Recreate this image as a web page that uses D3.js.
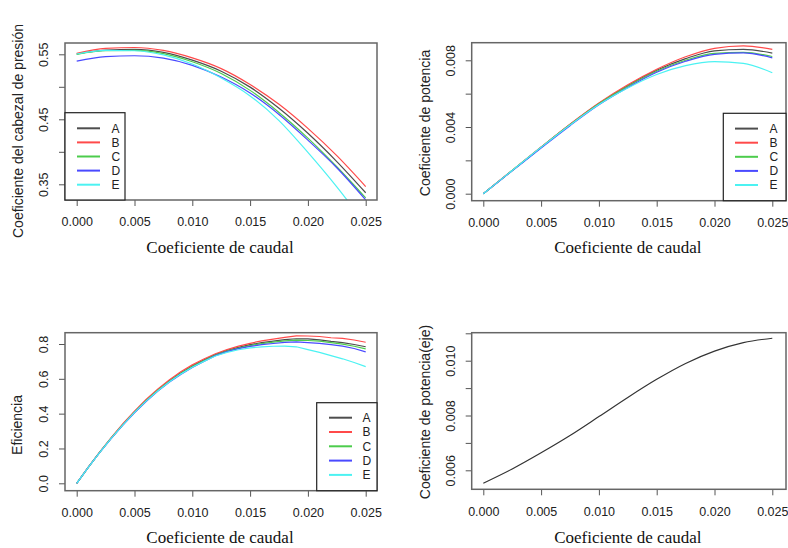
<!DOCTYPE html>
<html>
<head>
<meta charset="utf-8">
<script src="https://cdn.jsdelivr.net/npm/d3@7"></script>
<style>
  body { margin: 0; background: #fff; }
</style>
</head>
<body>
<div id="container"></div>
<script>
// flow coefficient samples
const flowCoef = [0, 0.0025, 0.005, 0.0075, 0.01, 0.0125, 0.015, 0.0175, 0.02, 0.0225, 0.025];
const flowFine = [0, 0.001, 0.002, 0.003, 0.004, 0.005, 0.006, 0.007, 0.008, 0.009, 0.010, 0.011, 0.012,
                  0.013, 0.014, 0.015, 0.016, 0.017, 0.018, 0.019, 0.020, 0.021, 0.022, 0.023, 0.024, 0.025];

const seriesNames = ['A', 'B', 'C', 'D', 'E'];

// head coefficient
const headA = [0.5505, 0.5565, 0.5575, 0.5530, 0.5410, 0.5240, 0.4995, 0.4670, 0.4285, 0.3850, 0.3370];
const headB = [0.5515, 0.5590, 0.5605, 0.5560, 0.5445, 0.5280, 0.5035, 0.4730, 0.4360, 0.3940, 0.3465];
const headC = [0.5500, 0.5555, 0.5560, 0.5510, 0.5385, 0.5205, 0.4945, 0.4605, 0.4210, 0.3770, 0.3290];
const headD = [0.5395, 0.5465, 0.5478, 0.5440, 0.5330, 0.5150, 0.4905, 0.4575, 0.4180, 0.3755, 0.3260];
const headE = [0.5505, 0.5560, 0.5555, 0.5490, 0.5350, 0.5135, 0.4860, 0.4480, 0.3990, 0.3460, 0.2880];

// power coefficient
const powerA = [0, 0.00139, 0.00279, 0.00415, 0.00541, 0.00648, 0.00740, 0.00810, 0.00857, 0.00866, 0.00843];
const powerB = [0, 0.00140, 0.00280, 0.00417, 0.00544, 0.00653, 0.00746, 0.00821, 0.00872, 0.00887, 0.00866];
const powerC = [0, 0.00139, 0.00278, 0.00413, 0.00539, 0.00644, 0.00734, 0.00800, 0.00842, 0.00848, 0.00823];
const powerD = [0, 0.00137, 0.00274, 0.00408, 0.00533, 0.00637, 0.00728, 0.00794, 0.00836, 0.00844, 0.00815];
const powerE = [0, 0.00139, 0.00278, 0.00412, 0.00535, 0.00634, 0.00715, 0.00768, 0.00792, 0.00781, 0.00725];

// efficiency
const effA = [0, 0.092, 0.179, 0.261, 0.338, 0.410, 0.476, 0.535, 0.587, 0.633, 0.673, 0.708, 0.740,
              0.763, 0.781, 0.796, 0.808, 0.817, 0.825, 0.830, 0.829, 0.824, 0.815, 0.808, 0.797, 0.784];
const effB = [0, 0.093, 0.181, 0.264, 0.342, 0.414, 0.481, 0.540, 0.593, 0.640, 0.680, 0.714, 0.744,
              0.768, 0.788, 0.804, 0.818, 0.828, 0.838, 0.847, 0.846, 0.843, 0.836, 0.832, 0.823, 0.810];
const effC = [0, 0.092, 0.179, 0.261, 0.337, 0.409, 0.474, 0.533, 0.585, 0.630, 0.670, 0.704, 0.737,
              0.760, 0.777, 0.791, 0.802, 0.811, 0.818, 0.822, 0.820, 0.816, 0.808, 0.799, 0.787, 0.772];
const effD = [0, 0.091, 0.177, 0.258, 0.334, 0.405, 0.470, 0.528, 0.580, 0.625, 0.665, 0.699, 0.733,
              0.756, 0.773, 0.786, 0.796, 0.803, 0.809, 0.812, 0.808, 0.804, 0.796, 0.788, 0.774, 0.755];
const effE = [0, 0.092, 0.178, 0.260, 0.336, 0.407, 0.472, 0.530, 0.582, 0.627, 0.666, 0.700, 0.731,
              0.752, 0.767, 0.778, 0.784, 0.787, 0.788, 0.784, 0.768, 0.752, 0.733, 0.715, 0.694, 0.670];

// shaft power coefficient
const shaftPower = [0.00553, 0.00605, 0.00664, 0.00727, 0.00796, 0.00866, 0.00932, 0.00990, 0.01035, 0.01066, 0.01082];

// ticks
const xTicks = [0, 0.005, 0.010, 0.015, 0.020, 0.025];
const xTickLabels = ['0.000', '0.005', '0.010', '0.015', '0.020', '0.025'];
const headTicks = [0.35, 0.40, 0.45, 0.50, 0.55];
const headTickLabels = ['0.35', '', '0.45', '', '0.55'];
const powerTicks = [0, 0.002, 0.004, 0.006, 0.008];
const powerTickLabels = ['0.000', '', '0.004', '', '0.008'];
const effTicks = [0, 0.2, 0.4, 0.6, 0.8];
const effTickLabels = ['0.0', '0.2', '0.4', '0.6', '0.8'];
const shaftTicks = [0.006, 0.007, 0.008, 0.009, 0.010, 0.011];
const shaftTickLabels = ['0.006', '', '0.008', '', '0.010', ''];

const colors = ['#4d4d4d', '#ff4a4a', '#4ccc4c', '#4a4aff', '#4cf2f2'];

const width = 788;
const height = 548;

const svg = d3.select('#container')
    .append('svg')
    .attr('width', width)
    .attr('height', height)
    .style('font-family', '"Liberation Sans", Arial, sans-serif');

function drawPanel(p) {
    const x = d3.scaleLinear().domain([0, 0.025]).range(p.xRange);
    const y = d3.scaleLinear().domain(p.yDomain).range(p.yRange);
    const [bl, bt, br, bb] = p.box;

    const g = svg.append('g');

    g.append('clipPath')
        .attr('id', 'clip' + p.id)
        .append('rect')
        .attr('x', bl).attr('y', bt)
        .attr('width', br - bl).attr('height', bb - bt);

    const line = d3.line()
        .x(d => x(d[0]))
        .y(d => y(d[1]))
        .curve(p.curve);

    g.append('g')
        .attr('clip-path', `url(#clip${p.id})`)
        .selectAll('path')
        .data(p.series)
        .join('path')
          .attr('fill', 'none')
          .attr('stroke', (d, i) => p.colors[i])
          .attr('stroke-width', p.lineWidth)
          .attr('d', d => line(p.xs.map((q, i) => [q, d[i]])));

    // x axis
    const xa = g.append('g')
        .attr('transform', `translate(0,${bb})`)
        .call(d3.axisBottom(x).tickValues(xTicks).tickFormat((d, i) => xTickLabels[i]).tickSize(6).tickSizeOuter(0));
    xa.select('.domain').remove();
    xa.selectAll('.tick line').attr('stroke', '#555');
    xa.selectAll('.tick text')
        .attr('y', 17.5)
        .attr('fill', '#222')
        .attr('font-size', '12.5px')
        .attr('font-family', '"Liberation Sans", Arial, sans-serif');

    // y axis
    const ya = g.append('g')
        .attr('transform', `translate(${bl},0)`)
        .call(d3.axisLeft(y).tickValues(p.yTicks).tickFormat((d, i) => p.yTickLabels[i]).tickSize(6).tickSizeOuter(0));
    ya.select('.domain').remove();
    ya.selectAll('.tick line').attr('stroke', '#555');
    ya.selectAll('.tick text')
        .attr('transform', 'rotate(-90)')
        .attr('x', 0)
        .attr('y', -16.7)
        .attr('dy', 0)
        .attr('text-anchor', 'middle')
        .attr('fill', '#222')
        .attr('font-size', '12.5px')
        .attr('font-family', '"Liberation Sans", Arial, sans-serif');

    // box
    g.append('rect')
        .attr('x', bl).attr('y', bt)
        .attr('width', br - bl).attr('height', bb - bt)
        .attr('fill', 'none')
        .attr('stroke', '#666')
        .attr('stroke-width', 1.5);

    // titles
    g.append('text')
        .attr('x', (bl + br) / 2 - 1)
        .attr('y', p.xTitleY)
        .attr('text-anchor', 'middle')
        .attr('font-family', '"Liberation Serif", "Times New Roman", serif')
        .attr('font-size', '17px')
        .attr('fill', '#111')
        .text('Coeficiente de caudal');

    g.append('text')
        .attr('transform', `translate(${p.yTitle[0]},${p.yTitle[1]}) rotate(-90)`)
        .attr('text-anchor', 'middle')
        .attr('dy', '0.35em')
        .attr('font-size', '14px')
        .attr('fill', '#222')
        .text(p.yLabel);

    // legend
    if (p.legend) {
        const L = p.legend;
        const lg = g.append('g');
        lg.append('rect')
            .attr('x', L.x0).attr('y', L.y0)
            .attr('width', L.x1 - L.x0).attr('height', L.y1 - L.y0)
            .attr('fill', '#fff')
            .attr('stroke', '#222')
            .attr('stroke-width', 1.2);
        const item = lg.selectAll('g')
            .data(seriesNames)
            .join('g')
              .attr('transform', (d, i) => `translate(0,${L.firstY + i * L.step})`);
        item.append('line')
            .attr('x1', L.lineX[0]).attr('x2', L.lineX[1])
            .attr('stroke', (d, i) => p.colors[i])
            .attr('stroke-width', 2);
        item.append('text')
            .attr('x', L.textX)
            .attr('dy', '0.35em')
            .attr('font-size', '12px')
            .attr('fill', '#222')
            .text(d => d);
    }
}

drawPanel({
    id: 1,
    box: [65, 43, 377, 200],
    xRange: [76.7, 365.7],
    yDomain: [0.35, 0.55], yRange: [184.3, 54.3],
    yTicks: headTicks, yTickLabels: headTickLabels,
    xs: flowCoef,
    series: [headA, headB, headC, headD, headE],
    colors: colors, lineWidth: 1.2,
    curve: d3.curveMonotoneX,
    xTitleY: 252.7,
    yTitle: [18, 131],
    yLabel: 'Coeficiente del cabezal de presión',
    legend: { x0: 65, y0: 112.7, x1: 125, y1: 200, firstY: 128.3, step: 14.1, lineX: [77, 100], textX: 111.5 }
});

drawPanel({
    id: 2,
    box: [471.7, 42.7, 786, 200.7],
    xRange: [483.3, 772.3],
    yDomain: [0, 0.008], yRange: [193.7, 60.3],
    yTicks: powerTicks, yTickLabels: powerTickLabels,
    xs: flowCoef,
    series: [powerA, powerB, powerC, powerD, powerE],
    colors: colors, lineWidth: 1.2,
    curve: d3.curveMonotoneX,
    xTitleY: 252.7,
    yTitle: [425, 123],
    yLabel: 'Coeficiente de potencia',
    legend: { x0: 723.3, y0: 113.3, x1: 786, y1: 200.7, firstY: 128.6, step: 14.1, lineX: [735, 758], textX: 769.5 }
});

drawPanel({
    id: 3,
    box: [65, 332.7, 377, 490.7],
    xRange: [76.7, 365.7],
    yDomain: [0, 0.8], yRange: [483.3, 344],
    yTicks: effTicks, yTickLabels: effTickLabels,
    xs: flowFine,
    series: [effA, effB, effC, effD, effE],
    colors: colors, lineWidth: 1.2,
    curve: d3.curveLinear,
    xTitleY: 542.7,
    yTitle: [17.5, 425],
    yLabel: 'Eficiencia',
    legend: { x0: 316.7, y0: 402.7, x1: 377, y1: 490.7, firstY: 417.7, step: 14.3, lineX: [329, 352], textX: 362.5 }
});

drawPanel({
    id: 4,
    box: [471.7, 332.7, 786, 489.3],
    xRange: [483.3, 772.3],
    yDomain: [0.006, 0.010], yRange: [470.3, 360.7],
    yTicks: shaftTicks, yTickLabels: shaftTickLabels,
    xs: flowCoef,
    series: [shaftPower],
    colors: ['#333'], lineWidth: 1.2,
    curve: d3.curveMonotoneX,
    xTitleY: 543,
    yTitle: [425, 412],
    yLabel: 'Coeficiente de potencia(eje)',
    legend: null
});
</script>
</body>
</html>
